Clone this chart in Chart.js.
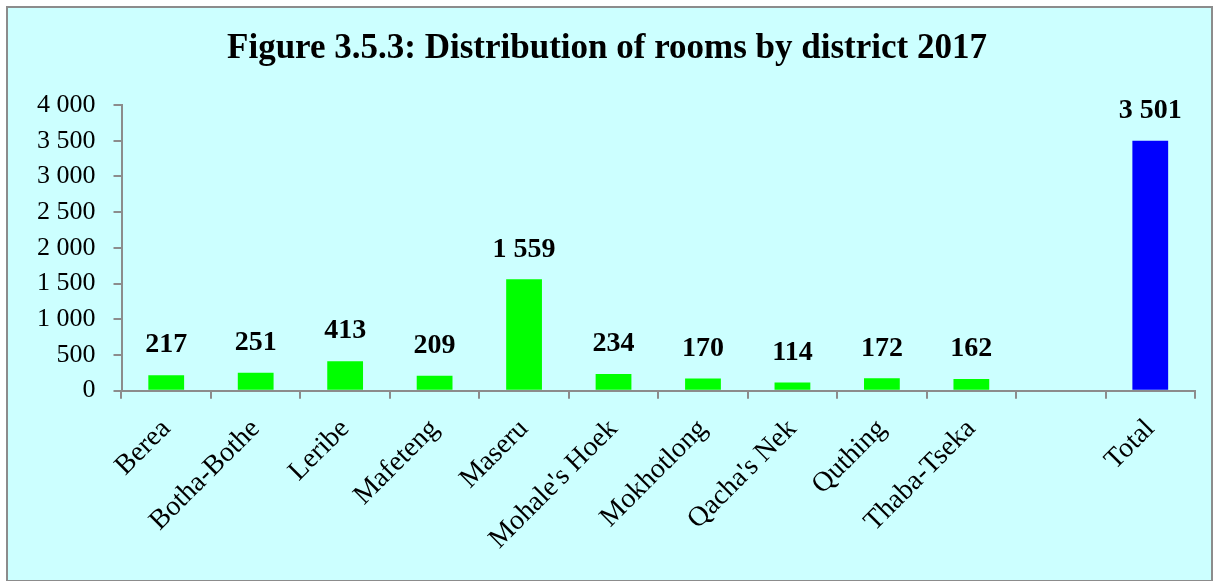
<!DOCTYPE html>
<html>
<head>
<meta charset="utf-8">
<script src="https://cdn.jsdelivr.net/npm/chart.js@4/dist/chart.umd.min.js"></script>
<style>
  body { margin: 0; background: #fff; }
  #frame {
    position: absolute; left: 6px; top: 6px; width: 1203px; height: 572px;
    border: 2px solid #8c8c8c; background: #ccffff;
  }
</style>
</head>
<body>
<div id="frame"><canvas id="roomsChart"></canvas></div>
<script>
const districts = ['Berea', 'Botha-Bothe', 'Leribe', 'Mafeteng', 'Maseru', "Mohale's Hoek",
  'Mokhotlong', "Qacha's Nek", 'Quthing', 'Thaba-Tseka', '', 'Total'];
const rooms = [217, 251, 413, 209, 1559, 234, 170, 114, 172, 162, null, 3501];
const barColours = ['#00ff00', '#00ff00', '#00ff00', '#00ff00', '#00ff00', '#00ff00',
  '#00ff00', '#00ff00', '#00ff00', '#00ff00', '#00ff00', '#0000ff'];
const yTicks = [0, 500, 1000, 1500, 2000, 2500, 3000, 3500, 4000];

// thousands separated by a space, e.g. 3 501
function spaced(v) {
  return String(v).replace(/\B(?=(\d{3})+(?!\d))/g, ' ');
}

const valueLabels = {
  id: 'valueLabels',
  afterDatasetsDraw(chart) {
    const ctx = chart.ctx;
    const meta = chart.getDatasetMeta(0);
    ctx.save();
    ctx.font = 'bold 28px "Liberation Serif"';
    ctx.fillStyle = '#000';
    ctx.textAlign = 'center';
    ctx.textBaseline = 'middle';
    meta.data.forEach((bar, i) => {
      if (rooms[i] == null) return;
      ctx.fillText(spaced(rooms[i]), bar.x, bar.y - 30);
    });
    ctx.restore();
  }
};

new Chart(document.getElementById('roomsChart'), {
  type: 'bar',
  data: {
    labels: districts,
    datasets: [{
      data: rooms,
      backgroundColor: barColours,
      categoryPercentage: 1,
      barPercentage: 0.4
    }]
  },
  options: {
    responsive: true,
    maintainAspectRatio: false,
    animation: false,
    layout: { padding: { left: 11, right: 16, top: 0, bottom: 10 } },
    plugins: {
      legend: { display: false },
      tooltip: { enabled: false },
      title: {
        display: true,
        text: 'Figure 3.5.3: Distribution of rooms by district 2017',
        color: '#000',
        font: { family: 'Liberation Serif', size: 35, weight: 'bold' },
        padding: { top: 20, bottom: 35 }
      }
    },
    scales: {
      x: {
        grid: { drawOnChartArea: false, offset: true, tickLength: 8, color: '#8c8c8c', lineWidth: 2 },
        border: { color: '#8c8c8c', width: 2 },
        ticks: {
          color: '#000',
          font: { family: 'Liberation Serif', size: 28 },
          autoSkip: false,
          minRotation: 45,
          maxRotation: 45,
          padding: 14
        }
      },
      y: {
        min: 0,
        max: 4000,
        afterBuildTicks(axis) { axis.ticks = yTicks.map(v => ({ value: v })); },
        grid: { drawOnChartArea: false, tickLength: 8, color: '#8c8c8c', lineWidth: 2 },
        border: { color: '#8c8c8c', width: 2 },
        ticks: {
          color: '#000',
          font: { family: 'Liberation Serif', size: 26 },
          padding: 18,
          callback: v => spaced(v)
        }
      }
    }
  },
  plugins: [valueLabels]
});
</script>
</body>
</html>
